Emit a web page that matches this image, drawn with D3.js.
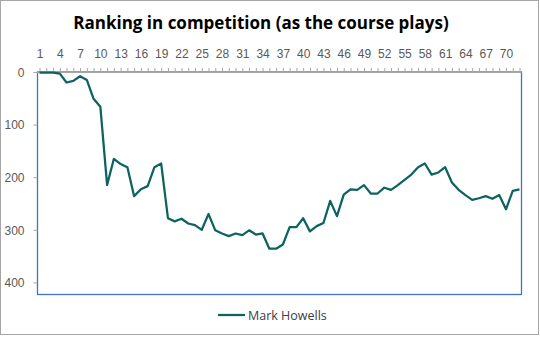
<!DOCTYPE html>
<html>
<head>
<meta charset="utf-8">
<script src="https://cdn.jsdelivr.net/npm/d3@7"></script>
<style>
  body { margin: 0; background: #fff; }
  svg { display: block; font-family: "Open Sans", "Noto Sans", sans-serif; }
  .axis text { fill: #595959; font-size: 12px; }
  .axis line { stroke: #a6a6a6; }
</style>
</head>
<body>
<svg id="chart"></svg>
<script>
// Position in the field after each hole (rank, 1 = leading)
const holes = d3.range(1, 73);
const ranks = [
  1, 1, 1, 3, 20, 17, 8, 15, 51, 66,
  215, 165, 175, 181, 236, 223, 217, 181, 174, 278,
  284, 279, 288, 291, 300, 270, 301, 307, 312, 307,
  310, 301, 309, 307, 336, 336, 328, 295, 295, 278,
  303, 293, 287, 245, 274, 233, 223, 224, 215, 231,
  231, 220, 224, 215, 205, 195, 181, 174, 195, 191,
  181, 210, 224, 234, 243, 240, 236, 241, 234, 261,
  226, 223
];
const yTicks = [0, 100, 200, 300, 400];
const seriesName = 'Mark Howells';
const title = 'Ranking in competition (as the course plays)';

const config = {
  width: 540,
  height: 337,
  plot: {left: 37.5, right: 521.5, top: 72, bottom: 294.5},
  lineColor: '#0d6360'
};

const svg = d3.select('#chart')
    .attr('width', config.width)
    .attr('height', config.height);

// outer chart frame
svg.append('rect')
    .attr('x', 0.5).attr('y', 0.5)
    .attr('width', config.width - 2).attr('height', config.height - 3)
    .attr('fill', '#fff')
    .attr('stroke', '#a6a6a6');

svg.append('text')
    .attr('x', 261)
    .attr('y', 29)
    .attr('text-anchor', 'middle')
    .style('font-size', '17px')
    .style('font-weight', 'bold')
    .style('fill', '#000')
    .text(title);

const p = config.plot;

const xScale = d3.scalePoint()
    .domain(holes)
    .range([p.left + 2, p.right - 2]);

// rank axis runs downwards, 0 at the top
const yScale = d3.scaleLinear()
    .domain([0, 423])
    .range([p.top, p.bottom]);

// plot area border
svg.append('rect')
    .attr('x', p.left).attr('y', p.top)
    .attr('width', p.right - p.left).attr('height', p.bottom - p.top)
    .attr('fill', 'none')
    .attr('stroke', '#4472c4')
    .attr('stroke-width', 1.3);

const xAxis = d3.axisTop(xScale)
    .tickSize(4)
    .tickPadding(10)
    .tickFormat(d => (d - 1) % 3 === 0 ? d : '');

const yAxis = d3.axisLeft(yScale)
    .tickValues(yTicks)
    .tickSize(4)
    .tickPadding(9);

const xAxisG = svg.append('g')
    .attr('class', 'axis x-axis')
    .attr('transform', `translate(0,${p.top})`)
    .call(xAxis);
xAxisG.select('.domain')
    .attr('d', `M${p.left - 4},0.5H${p.right}`)
    .attr('stroke', '#a6a6a6');

const yAxisG = svg.append('g')
    .attr('class', 'axis y-axis')
    .attr('transform', `translate(${p.left},0)`)
    .call(yAxis);
yAxisG.select('.domain').remove();
yAxisG.selectAll('text').attr('dy', '0.36em');

svg.selectAll('.axis text').attr('font-family', null);

const line = d3.line()
    .x((d, i) => xScale(holes[i]))
    .y(d => yScale(d));

svg.append('path')
    .datum(ranks)
    .attr('fill', 'none')
    .attr('stroke', config.lineColor)
    .attr('stroke-width', 2.25)
    .attr('stroke-linejoin', 'round')
    .attr('d', line);

// legend
const legend = svg.append('g')
    .attr('transform', 'translate(218,315)');
legend.append('line')
    .attr('x1', 0).attr('x2', 27)
    .attr('stroke', config.lineColor)
    .attr('stroke-width', 2.25);
legend.append('text')
    .attr('x', 30)
    .attr('dy', '0.36em')
    .style('font-size', '12.5px')
    .style('fill', '#404040')
    .text(seriesName);
</script>
</body>
</html>
